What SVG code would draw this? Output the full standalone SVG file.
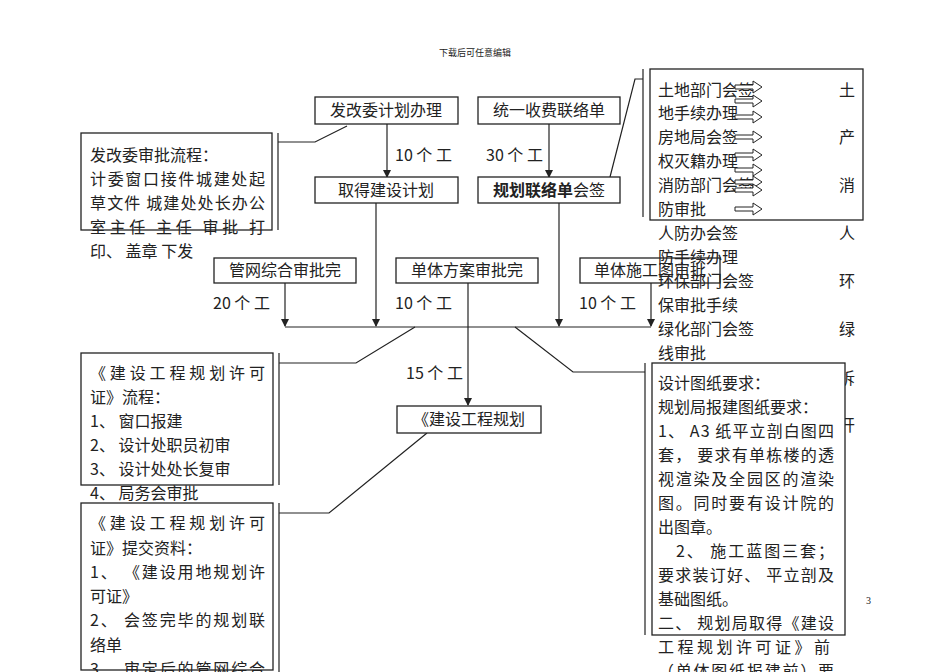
<svg xmlns="http://www.w3.org/2000/svg" width="950" height="672" viewBox="0 0 950 672">
<style>
text{font-family:"Noto Sans CJK SC","Liberation Sans",sans-serif;font-size:16px;fill:#222}
.b{fill:#fff;stroke:#222;stroke-width:1.3}
.l{fill:none;stroke:#222;stroke-width:1.2}
.c{text-anchor:middle}
.n{font-family:"Liberation Serif","Noto Sans CJK SC",serif}
.ha{fill:#fff;stroke:#222;stroke-width:1}
</style>
<defs>
<marker id="a" markerWidth="8" markerHeight="8" refX="7" refY="4" orient="auto" markerUnits="userSpaceOnUse"><path d="M0,0L8,4L0,8z" fill="#222"/></marker>
<path id="ha" d="M0,-2h18v-4l9,6l-9,6v-4h-18z"/>
</defs>
<rect width="950" height="672" fill="#fff"/>
<text x="475" y="56" class="c" style="font-size:9px">下载后可任意编辑</text>
<text x="866" y="604" class="n" style="font-size:10px">3</text>

<g id="connectors">
<path class="l" d="M387,124V177" marker-end="url(#a)"/>
<path class="l" d="M549,124V177" marker-end="url(#a)"/>
<path class="l" d="M285,283V326" marker-end="url(#a)"/>
<path class="l" d="M376,203V326" marker-end="url(#a)"/>
<path class="l" d="M559,203V326" marker-end="url(#a)"/>
<path class="l" d="M651,283V326" marker-end="url(#a)"/>
<path class="l" d="M285,327H651"/>
<path class="l" d="M468,283V405" marker-end="url(#a)"/>
<path class="l" d="M278,133V230M278,142H315L347,126"/>
<path class="l" d="M610,177L635,79H643M643,69V217"/>
<path class="l" d="M415,327L356,363H279M279,353V485"/>
<path class="l" d="M515,327L573,372H645M645,363V635"/>
<path class="l" d="M427,433L329,513H279M279,503V672"/>
</g>

<g id="n1"><rect class="b" x="315" y="97" width="143" height="27"/><text x="386" y="116" class="c">发改委计划办理</text></g>
<g id="n2"><rect class="b" x="478" y="97" width="142" height="27"/><text x="549" y="116" class="c">统一收费联络单</text></g>
<g id="n3"><rect class="b" x="315" y="177" width="143" height="26"/><text x="386" y="196" class="c">取得建设计划</text></g>
<g id="n4"><rect class="b" x="478" y="177" width="142" height="26"/><text x="549" y="196" class="c"><tspan font-weight="bold">规划联络单</tspan>会签</text></g>
<g id="n5"><rect class="b" x="214" y="258" width="142" height="25"/><text x="285" y="276" class="c">管网综合审批完</text></g>
<g id="n6"><rect class="b" x="396" y="258" width="142" height="25"/><text x="467" y="276" class="c">单体方案审批完</text></g>
<g id="n7"><rect class="b" x="580" y="258" width="140" height="25"/><text x="650" y="276" class="c">单体施工图审批</text></g>
<g id="n8"><rect class="b" x="397" y="406" width="144" height="27"/><text x="469" y="425" class="c">《建设工程规划</text></g>

<g id="labels" class="n">
<text x="395" y="161">10 个 工</text>
<text x="486" y="161">30 个 工</text>
<text x="213" y="309">20 个 工</text>
<text x="395" y="309">10 个 工</text>
<text x="579" y="309">10 个 工</text>
<text x="406" y="379">15 个 工</text>
</g>

<g id="n9"><rect class="b" x="81" y="133" width="191" height="97"/>
<text x="90" y="161">发改委审批流程：</text>
<text x="90" y="185" textLength="175">计委窗口接件城建处起</text>
<text x="90" y="209" textLength="175">草文件 城建处处长办公</text>
<text x="90" y="233" textLength="175">室主任  主任  审批 打</text>
<text x="90" y="257">印、 盖章 下发</text></g>

<g id="n10"><rect class="b" x="650" y="69" width="213" height="151"/>
<g>
<text x="658" y="96">土地部门会签</text><text x="658" y="119">地手续办理</text>
<text x="658" y="143">房地局会签</text><text x="658" y="167">权灭籍办理</text>
<text x="658" y="191">消防部门会签</text><text x="658" y="215">防审批</text>
<text x="658" y="239">人防办会签</text><text x="658" y="263">防手续办理</text>
<text x="658" y="287">环保部门会签</text><text x="658" y="311">保审批手续</text>
<text x="658" y="335">绿化部门会签</text><text x="658" y="359">线审批</text>
<text x="839" y="96">土</text><text x="839" y="143">产</text><text x="839" y="191">消</text>
<text x="839" y="239">人</text><text x="839" y="287">环</text><text x="839" y="335">绿</text>
<text x="839" y="384">拆</text><text x="839" y="431">开</text>
</g>
<g class="ha">
<use href="#ha" x="735" y="87"/><use href="#ha" x="735" y="101"/><use href="#ha" x="735" y="117"/>
<use href="#ha" x="735" y="137"/><use href="#ha" x="735" y="155"/><use href="#ha" x="735" y="170"/>
<use href="#ha" x="735" y="182"/><use href="#ha" x="735" y="190"/><use href="#ha" x="735" y="209"/>
</g></g>

<g id="n11"><rect class="b" x="81" y="353" width="192" height="132"/>
<text x="90" y="379" textLength="175">《建设工程规划许可</text>
<text x="90" y="403">证》流程：</text>
<text x="90" y="427">1、 窗口报建</text>
<text x="90" y="451">2、 设计处职员初审</text>
<text x="90" y="475">3、 设计处处长复审</text>
<text x="90" y="499">4、 局务会审批</text></g>

<g id="n12"><rect class="b" x="81" y="503" width="192" height="167"/>
<text x="90" y="529" textLength="175">《建设工程规划许可</text>
<text x="90" y="554">证》提交资料：</text>
<text x="90" y="578" textLength="175">1、 《建设用地规划许</text>
<text x="90" y="602">可证》</text>
<text x="90" y="626" textLength="175">2、 会签完毕的规划联</text>
<text x="90" y="651">络单</text>
<text x="90" y="675" textLength="175">3、 审定后的管网综合</text></g>

<g id="n13"><rect class="b" x="652" y="363" width="193" height="272"/>
<text x="658" y="389">设计图纸要求：</text>
<text x="658" y="413">规划局报建图纸要求：</text>
<text x="658" y="437" textLength="176">1、 A3 纸平立剖白图四</text>
<text x="658" y="461" textLength="176">套， 要求有单栋楼的透</text>
<text x="658" y="485" textLength="176">视渲染及全园区的渲染</text>
<text x="658" y="509" textLength="176">图。同时要有设计院的</text>
<text x="658" y="533">出图章。</text>
<text x="676" y="557" textLength="158">2、 施工蓝图三套；</text>
<text x="658" y="581" textLength="176">要求装订好、 平立剖及</text>
<text x="658" y="605">基础图纸。</text>
<text x="658" y="629" textLength="176">二、 规划局取得《建设</text>
<text x="658" y="653" textLength="172">工程规划许可证》前</text>
<text x="658" y="677" textLength="176">（单体图纸报建前）要</text></g>
</svg>
